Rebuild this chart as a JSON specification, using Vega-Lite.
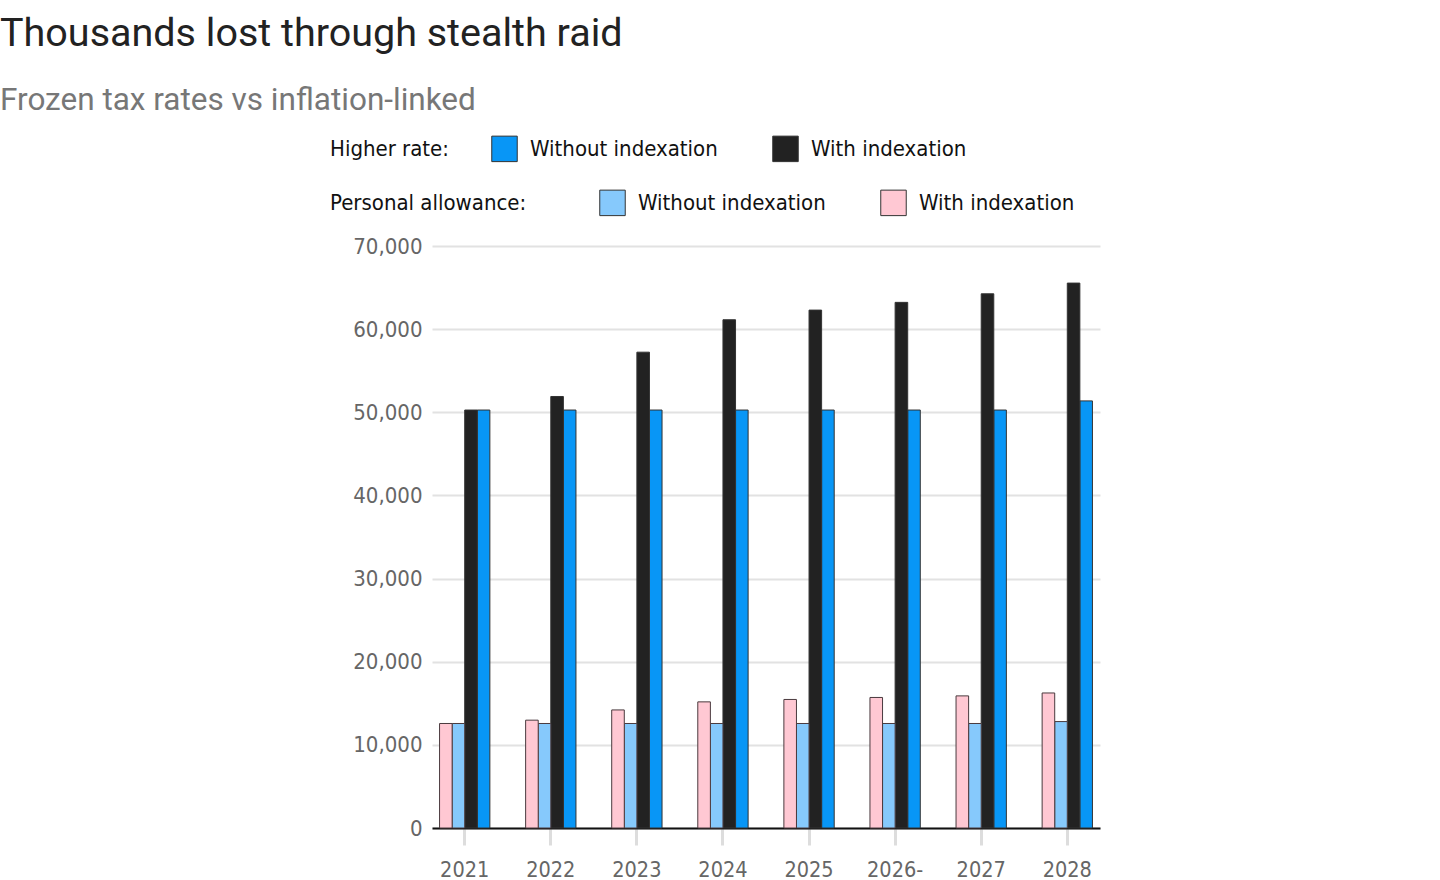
{
  "$schema": "https://vega.github.io/schema/vega-lite/v6.json",
  "width": 668,
  "height": 582,
  "autosize": {"type": "none"},
  "padding": {"left": 432, "top": 246, "right": 340, "bottom": 52},
  "background": "white",
  "title": {
    "text": "Thousands lost through stealth raid",
    "subtitle": "Frozen tax rates vs inflation-linked",
    "anchor": "start",
    "frame": "group",
    "dx": -432,
    "dy": -14,
    "font": "Roboto",
    "fontSize": 39.5,
    "fontWeight": "normal",
    "color": "#222222",
    "subtitleFont": "Roboto",
    "subtitleFontSize": 31.5,
    "subtitleColor": "#777777",
    "subtitlePadding": 30
  },
  "data": {
    "values": [
      {"year": "2021", "group": "Higher rate", "series": "Without indexation", "key": "HR without", "value": 50270},
      {"year": "2021", "group": "Higher rate", "series": "With indexation", "key": "HR with", "value": 50270},
      {"year": "2021", "group": "Personal allowance", "series": "Without indexation", "key": "PA without", "value": 12570},
      {"year": "2021", "group": "Personal allowance", "series": "With indexation", "key": "PA with", "value": 12570},
      {"year": "2022", "group": "Higher rate", "series": "Without indexation", "key": "HR without", "value": 50270},
      {"year": "2022", "group": "Higher rate", "series": "With indexation", "key": "HR with", "value": 51900},
      {"year": "2022", "group": "Personal allowance", "series": "Without indexation", "key": "PA without", "value": 12570},
      {"year": "2022", "group": "Personal allowance", "series": "With indexation", "key": "PA with", "value": 12970},
      {"year": "2023", "group": "Higher rate", "series": "Without indexation", "key": "HR without", "value": 50270},
      {"year": "2023", "group": "Higher rate", "series": "With indexation", "key": "HR with", "value": 57230},
      {"year": "2023", "group": "Personal allowance", "series": "Without indexation", "key": "PA without", "value": 12570},
      {"year": "2023", "group": "Personal allowance", "series": "With indexation", "key": "PA with", "value": 14200},
      {"year": "2024", "group": "Higher rate", "series": "Without indexation", "key": "HR without", "value": 50270},
      {"year": "2024", "group": "Higher rate", "series": "With indexation", "key": "HR with", "value": 61130},
      {"year": "2024", "group": "Personal allowance", "series": "Without indexation", "key": "PA without", "value": 12570},
      {"year": "2024", "group": "Personal allowance", "series": "With indexation", "key": "PA with", "value": 15170},
      {"year": "2025", "group": "Higher rate", "series": "Without indexation", "key": "HR without", "value": 50270},
      {"year": "2025", "group": "Higher rate", "series": "With indexation", "key": "HR with", "value": 62290},
      {"year": "2025", "group": "Personal allowance", "series": "Without indexation", "key": "PA without", "value": 12570},
      {"year": "2025", "group": "Personal allowance", "series": "With indexation", "key": "PA with", "value": 15460},
      {"year": "2026-", "group": "Higher rate", "series": "Without indexation", "key": "HR without", "value": 50270},
      {"year": "2026-", "group": "Higher rate", "series": "With indexation", "key": "HR with", "value": 63220},
      {"year": "2026-", "group": "Personal allowance", "series": "Without indexation", "key": "PA without", "value": 12570},
      {"year": "2026-", "group": "Personal allowance", "series": "With indexation", "key": "PA with", "value": 15700},
      {"year": "2027", "group": "Higher rate", "series": "Without indexation", "key": "HR without", "value": 50270},
      {"year": "2027", "group": "Higher rate", "series": "With indexation", "key": "HR with", "value": 64250},
      {"year": "2027", "group": "Personal allowance", "series": "Without indexation", "key": "PA without", "value": 12570},
      {"year": "2027", "group": "Personal allowance", "series": "With indexation", "key": "PA with", "value": 15890},
      {"year": "2028", "group": "Higher rate", "series": "Without indexation", "key": "HR without", "value": 51370},
      {"year": "2028", "group": "Higher rate", "series": "With indexation", "key": "HR with", "value": 65540},
      {"year": "2028", "group": "Personal allowance", "series": "Without indexation", "key": "PA without", "value": 12800},
      {"year": "2028", "group": "Personal allowance", "series": "With indexation", "key": "PA with", "value": 16240}
    ]
  },
  "encoding": {
    "x": {
      "field": "year",
      "type": "nominal",
      "sort": ["2021", "2022", "2023", "2024", "2025", "2026-", "2027", "2028"],
      "scale": {"paddingInner": 0.24, "paddingOuter": 0},
      "title": null,
      "axis": {
        "labelAngle": 0,
        "labelFont": "DejaVu Sans Condensed, Roboto",
        "labelFontSize": 21.5,
        "labelColor": "#666666",
        "labelPadding": 14,
        "domainColor": "#111111",
        "domainWidth": 2,
        "ticks": true,
        "tickColor": "#dddddd",
        "tickWidth": 3,
        "tickSize": 17,
        "grid": false
      }
    },
    "xOffset": {
      "field": "key",
      "type": "nominal",
      "scale": {"domain": ["PA with", "PA without", "HR with", "HR without"], "paddingInner": 0, "paddingOuter": 0.6}
    },
    "y": {
      "field": "value",
      "type": "quantitative",
      "scale": {"domain": [0, 70000], "nice": false},
      "title": null,
      "axis": {
        "values": [0, 10000, 20000, 30000, 40000, 50000, 60000, 70000],
        "format": ",.0f",
        "labelFont": "DejaVu Sans Condensed, Roboto",
        "labelFontSize": 22,
        "labelColor": "#666666",
        "labelPadding": 10,
        "domain": false,
        "ticks": false,
        "grid": true,
        "gridColor": "#e2e2e2",
        "gridWidth": 2
      }
    }
  },
  "layer": [
    {
      "transform": [{"filter": "datum.group === 'Higher rate'"}],
      "mark": {"type": "bar", "stroke": "#333333", "strokeWidth": 1},
      "encoding": {
        "color": {
          "field": "series",
          "type": "nominal",
          "scale": {"domain": ["Without indexation", "With indexation"], "range": ["#0896f6", "#222222"]},
          "legend": {
            "title": "Higher rate:",
            "orient": "none",
            "legendX": -102,
            "legendY": -111,
            "direction": "horizontal",
            "titleOrient": "left",
            "titlePadding": 42
          }
        }
      }
    },
    {
      "transform": [{"filter": "datum.group === 'Personal allowance'"}],
      "mark": {"type": "bar", "stroke": "#4a3a3e", "strokeWidth": 1},
      "encoding": {
        "color": {
          "field": "series",
          "type": "nominal",
          "scale": {"domain": ["Without indexation", "With indexation"], "range": ["#86c9fc", "#ffc8d3"]},
          "legend": {
            "title": "Personal allowance:",
            "orient": "none",
            "legendX": -102,
            "legendY": -57,
            "direction": "horizontal",
            "titleOrient": "left",
            "titlePadding": 72
          }
        }
      }
    }
  ],
  "resolve": {"scale": {"color": "independent"}},
  "config": {
    "view": {"stroke": null},
    "legend": {
      "labelFont": "DejaVu Sans Condensed, Roboto",
      "labelFontSize": 22,
      "labelColor": "#111111",
      "labelLimit": 400,
      "labelOffset": 12,
      "titleFont": "DejaVu Sans Condensed, Roboto",
      "titleFontSize": 22,
      "titleFontWeight": "normal",
      "titleColor": "#111111",
      "titleLimit": 400,
      "symbolType": "square",
      "symbolSize": 650,
      "symbolStrokeColor": "#333333",
      "symbolStrokeWidth": 1,
      "symbolOpacity": 1,
      "columnPadding": 52,
      "padding": 0
    }
  }
}
